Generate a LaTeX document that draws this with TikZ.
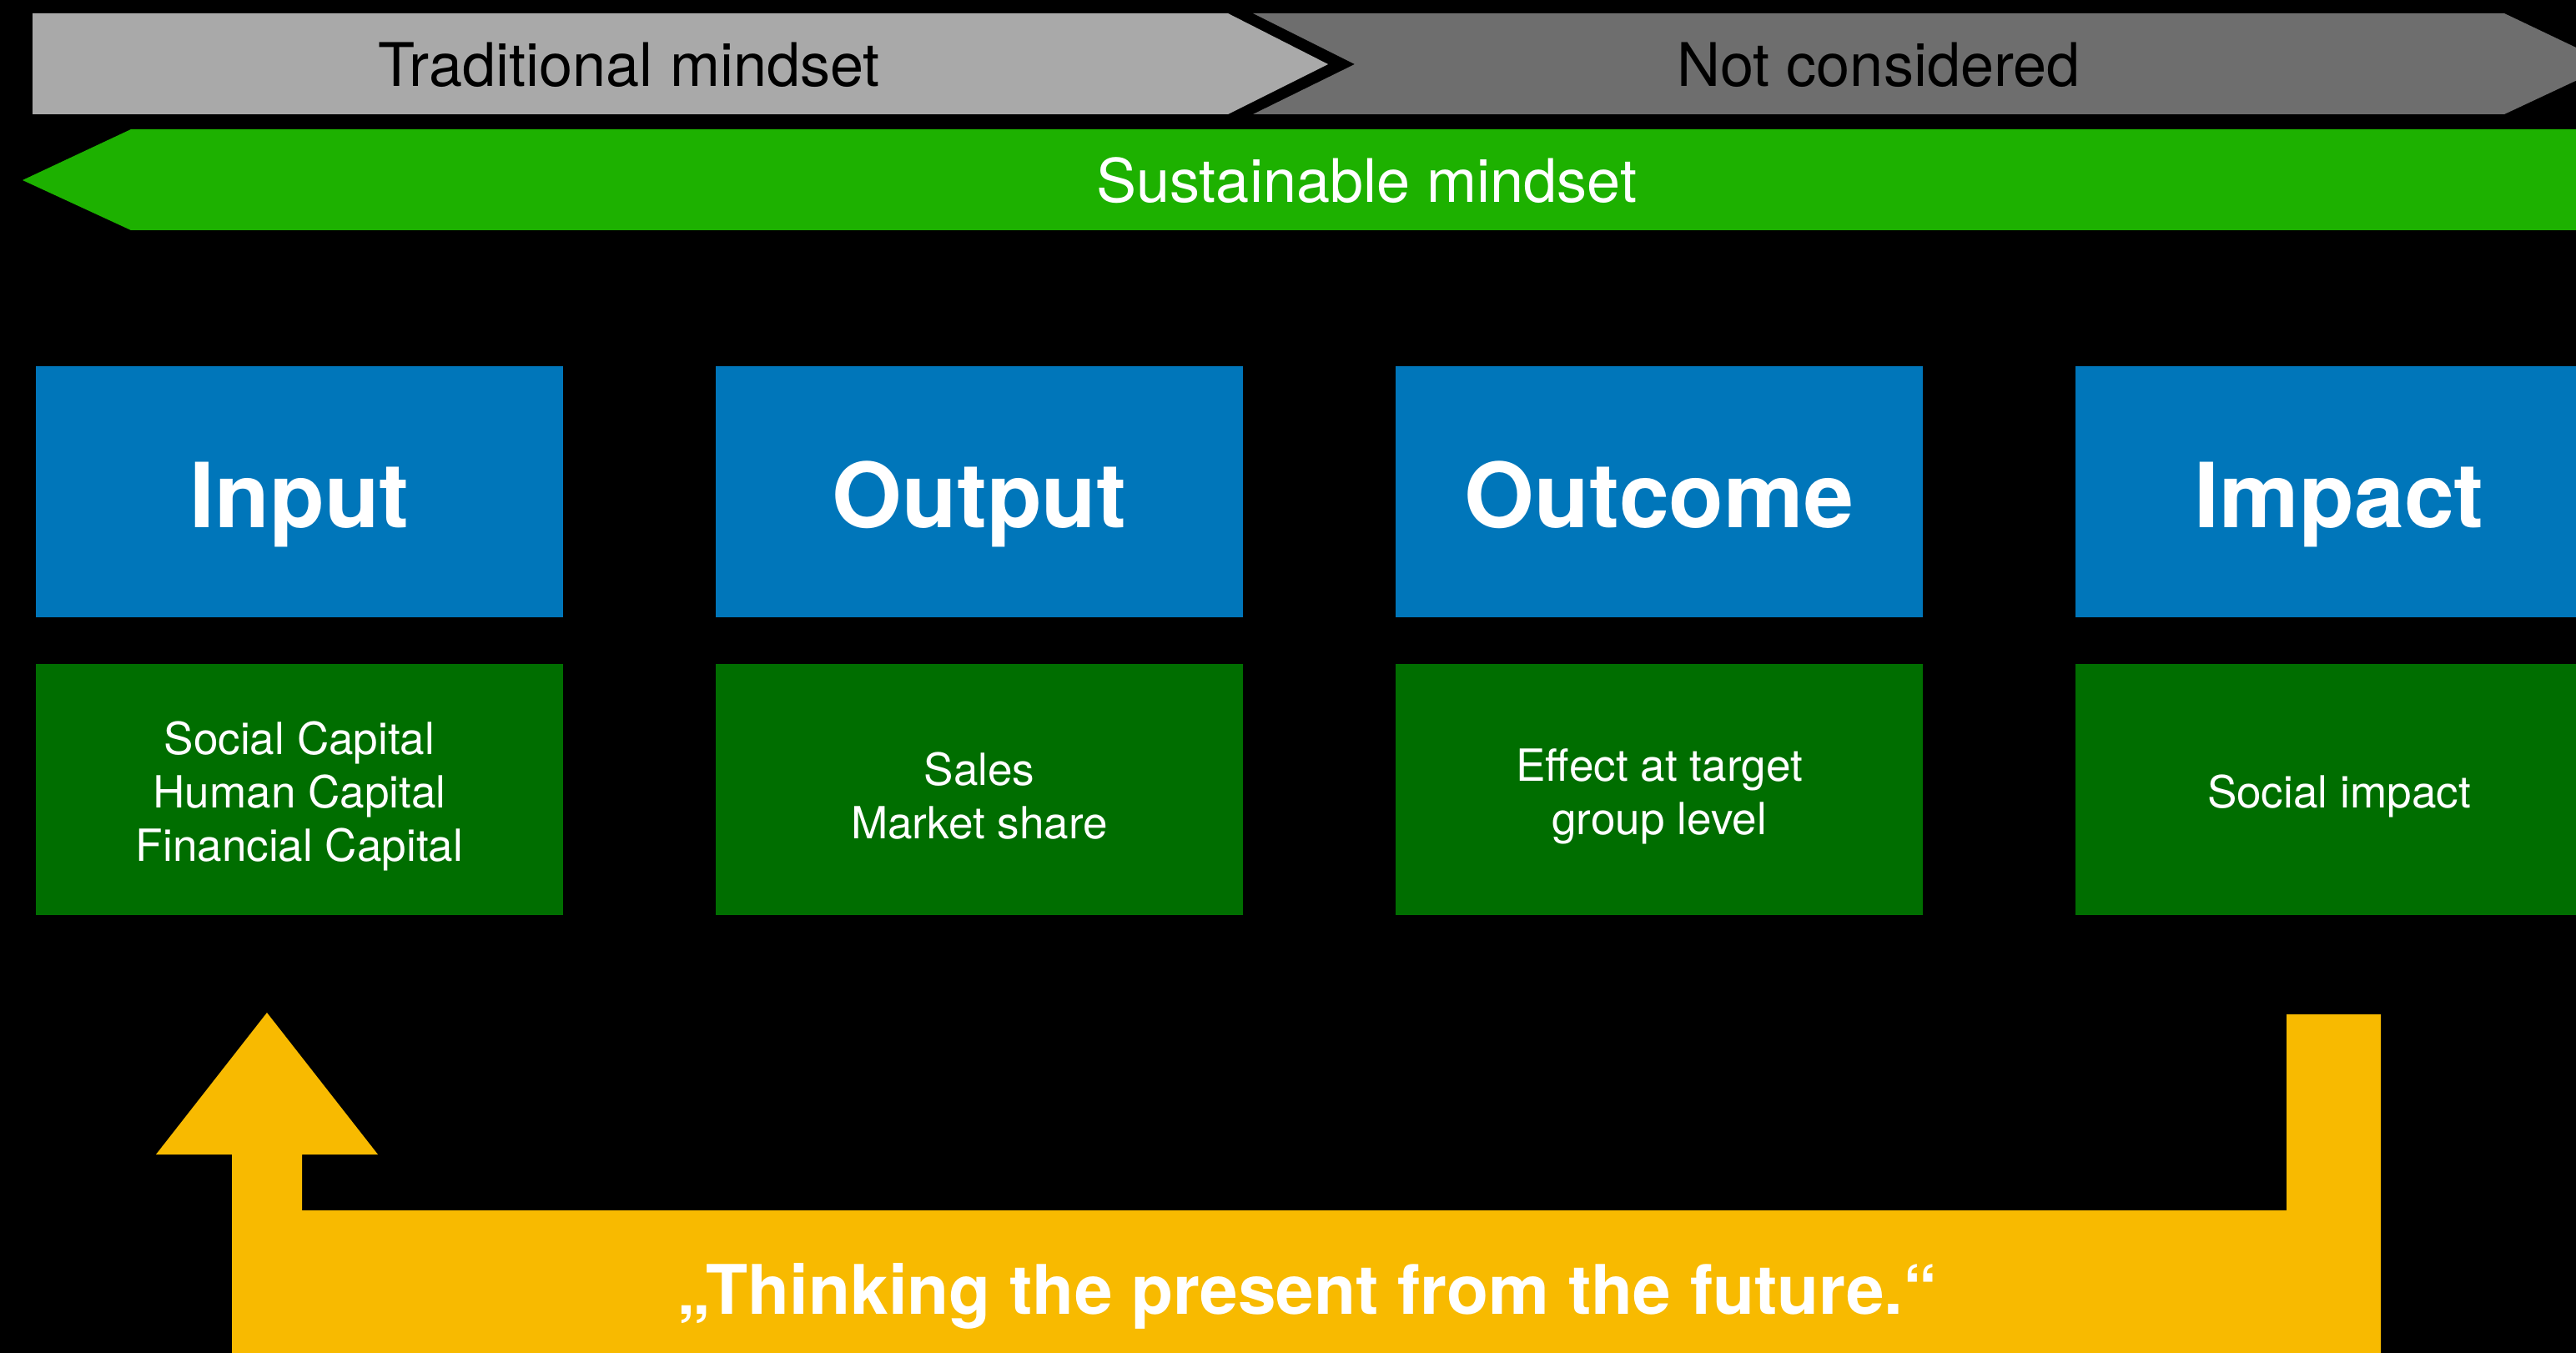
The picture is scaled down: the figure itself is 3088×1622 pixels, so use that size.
\documentclass[tikz,border=0pt]{standalone}
\usepackage{fontspec}
\setmainfont{TeX Gyre Heros}
\definecolor{lgrey}{HTML}{A9A9A9}
\definecolor{dgrey}{HTML}{6E6E6E}
\definecolor{sgreen}{HTML}{1DB100}
\definecolor{cblue}{HTML}{0076BA}
\definecolor{cgreen}{HTML}{006E00}
\definecolor{cyellow}{HTML}{F8BA00}
\begin{document}
\begin{tikzpicture}[x=0.01cm,y=-0.01cm,
  bannertext/.style={anchor=base, inner sep=0pt, font=\fontsize{20.5}{24}\selectfont},
  titlebox/.style={fill=cblue, text=white, minimum width=6.32cm, minimum height=3.01cm,
    inner sep=0pt, font=\bfseries\fontsize{30.6}{36}\selectfont, text height=24.3pt, text depth=0pt},
  detailbox/.style={fill=cgreen, minimum width=6.32cm, minimum height=3.01cm, inner sep=0pt},
  detailtext/.style={text=white, inner sep=0pt, align=center, font=\fontsize{15.1}{18.2}\selectfont},
  quotetext/.style={anchor=base, inner sep=0pt, text=white, font=\bfseries\fontsize{23.3}{28}\selectfont}]
\useasboundingbox (0,0) rectangle (3088,1622);
\clip (0,0) rectangle (3088,1622);
\fill[black] (0,0) rectangle (3088,1622);

% top banners
\fill[lgrey] (39,16) -- (1472,16) -- (1592,77) -- (1472,137) -- (39,137) -- cycle;
\fill[dgrey] (1502,16) -- (3002,16) -- (3130,77) -- (3002,137) -- (1502,137) -- (1624,77) -- cycle;
\fill[sgreen] (27,216) -- (157,155) -- (3088,155) -- (3088,276) -- (157,276) -- cycle;
\node[bannertext] (trad) at (754,104) {Traditional mindset};
\node[bannertext] (notc) at (2252,104) {Not considered};
\node[bannertext, text=white] (sust) at (1638,243) {Sustainable mindset};

% boxes
\node[titlebox] (input)   at (359,589.5)  {Input};
\node[titlebox] (output)  at (1174,589.5) {Output};
\node[titlebox] (outcome) at (1989,589.5) {Outcome};
\node[titlebox] (impact)  at (2804,589.5) {Impact};
\node[detailbox] (dinput)   at (359,946.5)  {};
\node[detailbox] (doutput)  at (1174,946.5) {};
\node[detailbox] (doutcome) at (1989,946.5) {};
\node[detailbox] (dimpact)  at (2804,946.5) {};
\node[detailtext] (tinput)   at ([yshift=-0.08cm]dinput.center)   {Social Capital\\Human Capital\\Financial Capital};
\node[detailtext] (toutput)  at ([yshift=-0.08cm]doutput.center)  {Sales\\Market share};
\node[detailtext] (toutcome) at ([yshift=-0.08cm]doutcome.center) {Effect at target\\group level};
\node[detailtext] (timpact)  at ([yshift=-0.08cm]dimpact.center)  {Social impact};

% yellow feedback arrow
\fill[cyellow] (278,1622) -- (278,1384) -- (187,1384) -- (320,1214) -- (453,1384)
  -- (362,1384) -- (362,1451) -- (2741,1451) -- (2741,1216) -- (2854,1216)
  -- (2854,1622) -- cycle;
\node[quotetext] (quote) at (1567,1575) {„Thinking the present from the future.“};
\end{tikzpicture}
\end{document}
